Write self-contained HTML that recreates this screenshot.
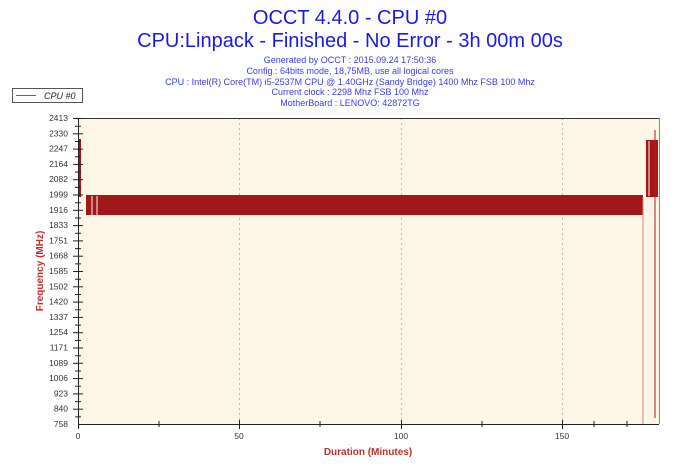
<!DOCTYPE html>
<html><head><meta charset="utf-8"><style>
body{margin:0;background:#fff;width:700px;height:467px;overflow:hidden;font-family:"Liberation Sans","DejaVu Sans",sans-serif}
</style></head><body>
<svg width="700" height="467" xmlns="http://www.w3.org/2000/svg" font-family="Liberation Sans, DejaVu Sans, sans-serif">
<g fill="#1a1ae6" text-anchor="middle">
<text x="350" y="24" font-size="20">OCCT 4.4.0 - CPU #0</text>
<text x="350" y="47" font-size="20">CPU:Linpack - Finished - No Error - 3h 00m 00s</text>
<g font-size="9" fill="#3b3be8">
<text x="350" y="63">Generated by OCCT : 2015.09.24 17:50:36</text>
<text x="350" y="74">Config : 64bits mode, 18,75MB, use all logical cores</text>
<text x="350" y="85">CPU : Intel(R) Core(TM) i5-2537M CPU @ 1.40GHz (Sandy Bridge) 1400 Mhz FSB 100 Mhz</text>
<text x="350" y="95">Current clock : 2298 Mhz FSB 100 Mhz</text>
<text x="350" y="106">MotherBoard : LENOVO: 42872TG</text>
</g></g>
<rect x="12.5" y="88.5" width="70" height="14" fill="#fff" stroke="#555"/>
<line x1="16" y1="95.5" x2="36" y2="95.5" stroke="#c04040"/>
<text x="44" y="99" font-size="9" font-style="italic" fill="#222">CPU #0</text>
<rect x="78" y="118" width="581" height="306" fill="#fdf5e6"/>
<g stroke="#bbb" stroke-dasharray="2,3">
<line x1="239.5" y1="118" x2="239.5" y2="424"/><line x1="401.5" y1="118" x2="401.5" y2="424"/><line x1="562.5" y1="118" x2="562.5" y2="424"/>
</g>
<g fill="#a01818">
<rect x="78" y="139" width="3" height="58"/>
<rect x="86" y="195" width="557" height="20"/>
<rect x="646" y="140" width="12" height="57"/>
</g>
<g stroke="#fdf5e6" stroke-width="1">
<line x1="92" y1="196" x2="92" y2="215"/><line x1="97" y1="196" x2="97" y2="215"/>
<line x1="649" y1="141" x2="649" y2="196"/><line x1="655" y1="141" x2="655" y2="196"/>
</g>
<line x1="643" y1="197" x2="643" y2="424" stroke="#e08080"/>
<line x1="655" y1="130" x2="655" y2="418" stroke="#b02020"/>
<line x1="78.5" y1="118" x2="78.5" y2="424" stroke="#222"/>
<line x1="78" y1="424.5" x2="659" y2="424.5" stroke="#222"/>
<line x1="78" y1="118.5" x2="659" y2="118.5" stroke="#333"/>
<line x1="659.5" y1="118" x2="659.5" y2="424" stroke="#888"/>
<g stroke="#222">
<line x1="73" y1="118.5" x2="83" y2="118.5"/><line x1="73" y1="133.8" x2="83" y2="133.8"/><line x1="73" y1="149.1" x2="83" y2="149.1"/><line x1="73" y1="164.4" x2="83" y2="164.4"/><line x1="73" y1="179.7" x2="83" y2="179.7"/><line x1="73" y1="195" x2="83" y2="195"/><line x1="73" y1="210.3" x2="83" y2="210.3"/><line x1="73" y1="225.6" x2="83" y2="225.6"/><line x1="73" y1="240.9" x2="83" y2="240.9"/><line x1="73" y1="256.2" x2="83" y2="256.2"/><line x1="73" y1="271.5" x2="83" y2="271.5"/><line x1="73" y1="286.8" x2="83" y2="286.8"/><line x1="73" y1="302.1" x2="83" y2="302.1"/><line x1="73" y1="317.4" x2="83" y2="317.4"/><line x1="73" y1="332.7" x2="83" y2="332.7"/><line x1="73" y1="348" x2="83" y2="348"/><line x1="73" y1="363.3" x2="83" y2="363.3"/><line x1="73" y1="378.6" x2="83" y2="378.6"/><line x1="73" y1="393.9" x2="83" y2="393.9"/><line x1="73" y1="409.2" x2="83" y2="409.2"/>
</g>
<g stroke="#222" stroke-dasharray="1,6.65" stroke-dashoffset="-3.3">
<line x1="75" y1="118" x2="75" y2="424" stroke="none"/>
</g>
<g stroke="#222">
<path d="M75 126.2H81M75 141.5H81M75 156.8H81M75 172.1H81M75 187.4H81M75 202.7H81M75 218H81M75 233.3H81M75 248.6H81M75 263.9H81M75 279.2H81M75 294.5H81M75 309.8H81M75 325.1H81M75 340.4H81M75 355.7H81M75 371H81M75 386.3H81M75 401.6H81M75 416.9H81"/>
</g>
<g font-size="8.5" fill="#333" text-anchor="end">
<text x="68" y="121">2413</text><text x="68" y="136.3">2330</text><text x="68" y="151.6">2247</text><text x="68" y="166.9">2164</text><text x="68" y="182.2">2082</text><text x="68" y="197.5">1999</text><text x="68" y="212.8">1916</text><text x="68" y="228.1">1833</text><text x="68" y="243.4">1751</text><text x="68" y="258.7">1668</text><text x="68" y="274">1585</text><text x="68" y="289.3">1502</text><text x="68" y="304.6">1420</text><text x="68" y="319.9">1337</text><text x="68" y="335.2">1254</text><text x="68" y="350.5">1171</text><text x="68" y="365.8">1089</text><text x="68" y="381.1">1006</text><text x="68" y="396.4">923</text><text x="68" y="411.7">840</text><text x="68" y="427">758</text>
</g>
<g font-size="8.5" fill="#333" text-anchor="middle">
<text x="78" y="439">0</text><text x="239" y="439">50</text><text x="401" y="439">100</text><text x="562" y="439">150</text>
</g>
<g stroke="#222">
<line x1="78.5" y1="420" x2="78.5" y2="429"/><line x1="239.5" y1="420" x2="239.5" y2="429"/><line x1="401.5" y1="420" x2="401.5" y2="429"/><line x1="562.5" y1="420" x2="562.5" y2="429"/>
<line x1="159" y1="421" x2="159" y2="427"/><line x1="320" y1="421" x2="320" y2="427"/><line x1="482" y1="421" x2="482" y2="427"/><line x1="594" y1="421" x2="594" y2="427"/><line x1="627" y1="421" x2="627" y2="427"/>
</g>
<text x="368" y="455" font-size="10" font-weight="bold" fill="#c03030" text-anchor="middle">Duration (Minutes)</text>
<text transform="translate(43,271) rotate(-90)" font-size="10" font-weight="bold" fill="#c03030" text-anchor="middle">Frequency (MHz)</text>
</svg>
</body></html>
